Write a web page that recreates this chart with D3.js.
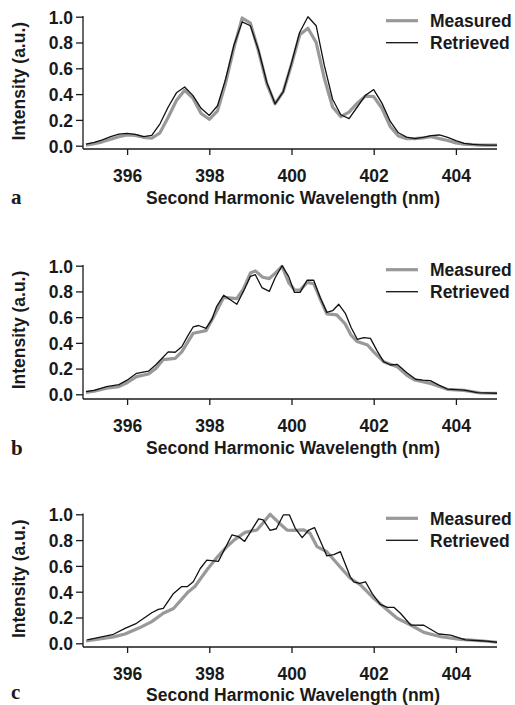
<!DOCTYPE html>
<html>
<head>
<meta charset="utf-8">
<script src="https://cdn.jsdelivr.net/npm/d3@7"></script>
<style>
html,body{margin:0;padding:0;background:#fff;}
svg{display:block;}
text{font-family:"Liberation Sans",Arial,Helvetica,sans-serif;font-weight:bold;fill:#1a1a1a;}
</style>
</head>
<body>
<svg id="chart" width="515" height="705"></svg>
<script>
// ---------- Data ----------
const panelLabels = ["a", "b", "c"];
const seriesNames = ["Measured", "Retrieved"];
const xTickValues = [396, 398, 400, 402, 404];
const yTickValues = [0, 0.2, 0.4, 0.6, 0.8, 1.0];
const xLabel = "Second Harmonic Wavelength (nm)";
const yLabel = "Intensity (a.u.)";

// Panel a
const wavelengthA = [395.0,395.2,395.4,395.6,395.8,396.0,396.2,396.4,396.6,396.8,397.0,397.2,397.4,397.6,397.8,398.0,398.2,398.4,398.6,398.8,399.0,399.2,399.4,399.6,399.8,400.0,400.2,400.4,400.6,400.8,401.0,401.2,401.4,401.6,401.8,402.0,402.2,402.4,402.6,402.8,403.0,403.2,403.4,403.6,403.8,404.0,404.2,404.4,404.6,404.8,405.0];
const measuredA = [0.005,0.015,0.03,0.05,0.07,0.083,0.08,0.065,0.058,0.1,0.22,0.35,0.43,0.37,0.25,0.205,0.27,0.49,0.76,0.99,0.95,0.73,0.48,0.325,0.42,0.63,0.86,0.91,0.80,0.52,0.30,0.225,0.26,0.33,0.385,0.38,0.29,0.15,0.075,0.055,0.055,0.06,0.07,0.055,0.04,0.022,0.012,0.008,0.005,0.005,0.005];
const retrievedA = [0.013,0.025,0.045,0.07,0.09,0.095,0.088,0.07,0.08,0.17,0.30,0.41,0.455,0.39,0.29,0.235,0.31,0.52,0.78,0.96,0.93,0.74,0.49,0.325,0.42,0.64,0.88,1.0,0.93,0.62,0.36,0.24,0.21,0.30,0.39,0.435,0.33,0.19,0.10,0.066,0.055,0.065,0.078,0.083,0.065,0.04,0.018,0.01,0.007,0.005,0.005];

// Panel b
const wavelengthMeasuredB = [395.0,395.2,395.5,395.8,396.0,396.23,396.52,396.7,396.88,397.17,397.33,397.61,397.92,398.1,398.35,398.67,398.83,399.0,399.12,399.3,399.46,399.6,399.77,399.93,400.07,400.21,400.38,400.54,400.7,400.86,401.1,401.3,401.45,401.6,401.85,402.0,402.24,402.57,402.8,403.0,403.38,403.6,403.79,404.2,404.6,405.0];
const measuredB = [0.015,0.025,0.047,0.06,0.09,0.137,0.158,0.2,0.27,0.28,0.33,0.475,0.495,0.6,0.754,0.744,0.82,0.943,0.96,0.91,0.9,0.94,0.995,0.87,0.813,0.81,0.87,0.86,0.74,0.625,0.617,0.55,0.46,0.41,0.383,0.33,0.254,0.215,0.15,0.111,0.085,0.06,0.039,0.03,0.01,0.008];
const wavelengthRetrievedB = [395.0,395.2,395.5,395.8,396.0,396.23,396.52,396.7,396.88,397.0,397.17,397.33,397.47,397.61,397.74,397.92,398.06,398.18,398.35,398.67,398.83,399.0,399.12,399.28,399.46,399.6,399.77,399.93,400.07,400.21,400.38,400.54,400.7,400.86,401.0,401.15,401.31,401.45,401.6,401.76,401.92,402.08,402.24,402.41,402.57,402.8,403.02,403.2,403.38,403.6,403.79,404.0,404.2,404.52,405.0];
const retrievedB = [0.02,0.03,0.06,0.075,0.11,0.163,0.18,0.23,0.29,0.33,0.327,0.37,0.45,0.525,0.535,0.513,0.58,0.684,0.77,0.70,0.80,0.917,0.93,0.83,0.80,0.904,1.0,0.917,0.793,0.793,0.887,0.887,0.75,0.637,0.65,0.70,0.63,0.52,0.428,0.44,0.435,0.34,0.254,0.228,0.233,0.17,0.117,0.11,0.106,0.07,0.041,0.037,0.033,0.013,0.008];

// Panel c
const wavelengthMeasuredC = [395.0,395.67,395.95,396.3,396.6,396.88,397.13,397.47,397.65,397.94,398.2,398.4,398.6,398.87,399.16,399.3,399.48,399.69,399.89,400.05,400.3,400.45,400.62,400.86,401.19,401.43,401.68,402.0,402.24,402.57,402.9,403.22,403.63,404.11,404.68,405.0];
const measuredC = [0.018,0.05,0.072,0.12,0.168,0.233,0.27,0.393,0.44,0.568,0.671,0.74,0.80,0.86,0.878,0.93,1.0,0.935,0.878,0.876,0.88,0.853,0.75,0.71,0.59,0.504,0.452,0.349,0.284,0.194,0.142,0.085,0.051,0.031,0.018,0.008];
const wavelengthRetrievedC = [395.03,395.67,395.95,396.23,396.6,396.76,396.88,397.13,397.33,397.47,397.61,397.78,397.94,398.22,398.55,398.71,398.86,399.2,399.31,399.48,399.63,399.8,399.95,400.09,400.26,400.42,400.56,400.86,401.03,401.19,401.43,401.51,401.66,401.8,401.96,402.16,402.33,402.49,402.65,402.9,403.22,403.58,403.87,404.23,404.68,405.0];
const retrievedC = [0.026,0.07,0.116,0.155,0.237,0.263,0.27,0.387,0.44,0.44,0.477,0.58,0.645,0.635,0.84,0.827,0.79,0.965,0.956,0.876,0.888,0.995,0.995,0.891,0.819,0.878,0.897,0.677,0.687,0.71,0.516,0.477,0.465,0.477,0.387,0.302,0.279,0.279,0.233,0.142,0.14,0.072,0.064,0.026,0.018,0.008];

const panelsData = [
  {measured: wavelengthA.map((w,i)=>[w, measuredA[i]]), retrieved: wavelengthA.map((w,i)=>[w, retrievedA[i]])},
  {measured: wavelengthMeasuredB.map((w,i)=>[w, measuredB[i]]), retrieved: wavelengthRetrievedB.map((w,i)=>[w, retrievedB[i]])},
  {measured: wavelengthMeasuredC.map((w,i)=>[w, measuredC[i]]), retrieved: wavelengthRetrievedC.map((w,i)=>[w, retrievedC[i]])}
];

// ---------- Layout ----------
const panelLayout = [
  {top: 16.7, zero: 145.7, axisY: 149, letterY: 203.5, labelY: 203.5},
  {top: 265.7, zero: 394.3, axisY: 399, letterY: 455, labelY: 453.5},
  {top: 514.3, zero: 643.3, axisY: 647, letterY: 699, labelY: 700.5}
];
const yAxisX = 83, plotLeft = 86, plotRight = 497;
const fontSize = 17.5;
const grayColor = "#999999", blackColor = "#111111";

const svg = d3.select("#chart");
const x = d3.scaleLinear().domain([395, 405]).range([plotLeft, plotRight]);

panelsData.forEach((pd, i) => {
  const L = panelLayout[i];
  const y = d3.scaleLinear().domain([0, 1]).range([L.zero, L.top]);
  const g = svg.append("g");

  // Y axis
  const yAx = g.append("g").attr("transform", `translate(${yAxisX},0)`)
    .call(d3.axisLeft(y).tickValues(yTickValues).tickFormat(d3.format(".1f")).tickSize(7).tickPadding(3));
  yAx.select(".domain").remove();
  yAx.selectAll(".tick line").attr("stroke", "#1a1a1a").attr("stroke-width", 1.3);
  yAx.selectAll(".tick text").attr("font-size", fontSize).attr("font-family", null).attr("dy", "0.36em");

  // X axis
  const xAx = g.append("g").attr("transform", `translate(0,${L.axisY})`)
    .call(d3.axisBottom(x).tickValues(xTickValues).tickFormat(d3.format("d")).tickSize(6).tickPadding(14.5));
  xAx.select(".domain").remove();
  xAx.selectAll(".tick line").attr("stroke", "#1a1a1a").attr("stroke-width", 1.3);
  xAx.selectAll(".tick text").attr("font-size", fontSize).attr("font-family", null);

  // Axis lines
  g.append("line").attr("x1", yAxisX).attr("x2", yAxisX).attr("y1", L.top - 0.7).attr("y2", L.axisY)
    .attr("stroke", "#1a1a1a").attr("stroke-width", 1.3);
  g.append("line").attr("x1", yAxisX).attr("x2", plotRight).attr("y1", L.axisY).attr("y2", L.axisY)
    .attr("stroke", "#1a1a1a").attr("stroke-width", 1.3);

  // Lines
  const line = d3.line().x(d => x(d[0])).y(d => y(d[1]));
  g.append("path").datum(pd.measured).attr("d", line)
    .attr("fill", "none").attr("stroke", grayColor).attr("stroke-width", 3.2)
    .attr("stroke-linejoin", "round");
  g.append("path").datum(pd.retrieved).attr("d", line)
    .attr("fill", "none").attr("stroke", blackColor).attr("stroke-width", 1.3)
    .attr("stroke-linejoin", "round");

  // Legend
  seriesNames.forEach((name, k) => {
    const ly = L.top + 4 + k * 22;
    g.append("line").attr("x1", 386).attr("x2", 418).attr("y1", ly).attr("y2", ly)
      .attr("stroke", k === 0 ? grayColor : blackColor).attr("stroke-width", k === 0 ? 3.2 : 1.3);
    g.append("text").attr("x", 430).attr("y", ly).attr("dy", "0.36em")
      .attr("font-size", fontSize).text(name);
  });

  // Y label
  g.append("text").attr("transform", `translate(24.5,${y(0.5)}) rotate(-90)`)
    .attr("text-anchor", "middle").attr("font-size", fontSize).text(yLabel);

  // X label
  g.append("text").attr("x", 293).attr("y", L.labelY)
    .attr("text-anchor", "middle").attr("font-size", fontSize).text(xLabel);

  // Panel letter
  g.append("text").attr("x", 11).attr("y", L.letterY)
    .style("font-family", "'Liberation Serif','Times New Roman',serif")
    .attr("font-size", 21).text(panelLabels[i]);
});
</script>
</body>
</html>
